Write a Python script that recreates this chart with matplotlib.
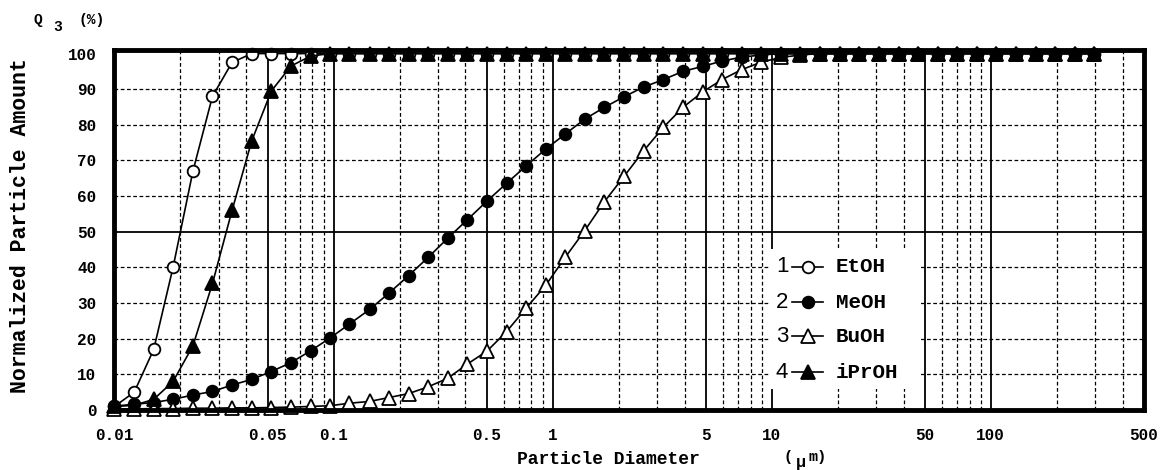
import matplotlib
matplotlib.use("Agg")
import matplotlib.pyplot as plt
from matplotlib.patches import Rectangle

# ---------------- data ----------------
diameters_um = [0.0100, 0.0123, 0.0151, 0.0185, 0.0228, 0.0280, 0.0344, 0.0423, 0.0520, 0.0639,
                0.0785, 0.0964, 0.118, 0.146, 0.179, 0.220, 0.270, 0.332, 0.408, 0.501,
                0.616, 0.757, 0.930, 1.14, 1.40, 1.72, 2.12, 2.60, 3.20, 3.93,
                4.83, 5.93, 7.29, 8.96, 11.0, 13.5, 16.6, 20.4, 25.1, 30.8,
                37.9, 46.6, 57.2, 70.3, 86.4, 106, 130, 160, 197, 242, 297]

etoh = [1.0, 5.0, 17.0, 40.0, 67.0, 88.0, 97.5, 100, 100, 100,
        100, 100, 100, 100, 100, 100, 100, 100, 100, 100,
        100, 100, 100, 100, 100, 100, 100, 100, 100, 100,
        100, 100, 100, 100, 100, 100, 100, 100, 100, 100,
        100, 100, 100, 100, 100, 100, 100, 100, 100, 100, 100]

meoh = [1.1, 1.6, 2.1, 3.0, 4.2, 5.2, 7.0, 8.6, 10.8, 13.3,
        16.6, 20.2, 24.1, 28.2, 32.8, 37.7, 42.8, 48.2, 53.4, 58.6,
        63.6, 68.5, 73.2, 77.4, 81.6, 84.9, 87.9, 90.6, 92.7, 95.0,
        96.4, 97.9, 99.0, 99.6, 100, 100, 100, 100, 100, 100,
        100, 100, 100, 100, 100, 100, 100, 100, 100, 100, 100]

buoh = [0.3, 0.3, 0.4, 0.4, 0.5, 0.5, 0.6, 0.6, 0.7, 0.8,
        1.0, 1.2, 1.9, 2.4, 3.5, 4.6, 6.5, 8.9, 12.9, 16.5,
        22.0, 28.6, 35.0, 42.8, 50.3, 58.4, 65.6, 72.7, 79.3, 84.9,
        89.2, 92.7, 95.5, 97.6, 98.9, 99.6, 100, 100, 100, 100,
        100, 100, 100, 100, 100, 100, 100, 100, 100, 100, 100]

iproh = [1.0, 1.3, 3.0, 8.0, 18.0, 35.5, 56.0, 75.5, 89.5, 96.5,
         99.3, 100, 100, 100, 100, 100, 100, 100, 100, 100,
         100, 100, 100, 100, 100, 100, 100, 100, 100, 100,
         100, 100, 100, 100, 100, 100, 100, 100, 100, 100,
         100, 100, 100, 100, 100, 100, 100, 100, 100, 100, 100]

series_names = ["EtOH", "MeOH", "BuOH", "iPrOH"]
series_numbers = ["1", "2", "3", "4"]

x_tick_values = [0.01, 0.05, 0.1, 0.5, 1, 5, 10, 50, 100, 500]
x_tick_labels = ["0.01", "0.05", "0.1", "0.5", "1", "5", "10", "50", "100", "500"]
y_tick_values = [0, 10, 20, 30, 40, 50, 60, 70, 80, 90, 100]
y_tick_labels = ["0", "10", "20", "30", "40", "50", "60", "70", "80", "90", "100"]

x_solid_grid = [0.05, 0.1, 0.5, 1, 5, 10, 50, 100]
x_dashed_grid = [0.02, 0.03, 0.04, 0.06, 0.07, 0.08, 0.09,
                 0.2, 0.3, 0.4, 0.6, 0.7, 0.8, 0.9,
                 2, 3, 4, 6, 7, 8, 9,
                 20, 30, 40, 60, 70, 80, 90,
                 200, 300, 400]
y_solid_grid = [50]
y_dashed_grid = [10, 20, 30, 40, 60, 70, 80, 90]

# ---------------- styles ----------------
MONO = "Liberation Mono"
W, H = 1165, 470
fig = plt.figure(figsize=(W / 100, H / 100), dpi=100)
fig.patch.set_facecolor("white")

left_px, right_px, top_px, bottom_px = 114.5, 1144.0, 50.0, 410.0
ax = fig.add_axes([left_px / W, 1 - bottom_px / H,
                   (right_px - left_px) / W, (bottom_px - top_px) / H])
ax.set_xscale("log")
ax.set_xlim(0.01, 500)
ax.set_ylim(0, 101.0)

# grid
dash = (0, (3, 2))
for xv in x_solid_grid:
    ax.axvline(xv, color="black", lw=1.3, zorder=1)
for xv in x_dashed_grid:
    ax.axvline(xv, color="black", lw=0.9, ls=dash, zorder=1)
for yv in y_solid_grid:
    ax.axhline(yv, color="black", lw=1.3, zorder=1)
for yv in y_dashed_grid:
    ax.axhline(yv, color="black", lw=0.9, ls=dash, zorder=1)

styles = [
    dict(marker="o", mfc="white", ms=8.4),
    dict(marker="o", mfc="black", ms=8.4),
    dict(marker="^", mfc="white", ms=9.6),
    dict(marker="^", mfc="black", ms=9.6),
]
all_series = [etoh, meoh, buoh, iproh]
for i, (vals, st) in enumerate(zip(all_series, styles)):
    ax.plot(diameters_um, vals, color="black", lw=1.2, mec="black", mew=1.3,
            clip_on=False, zorder=5 + i, **st)

# ticks
ax.set_xticks(x_tick_values)
ax.set_xticklabels(x_tick_labels)
ax.xaxis.set_minor_locator(matplotlib.ticker.NullLocator())
ax.set_yticks(y_tick_values)
ax.set_yticklabels(y_tick_labels)
ax.tick_params(axis="both", length=0, pad=13, labelsize=11.5)
for lab in ax.get_xticklabels() + ax.get_yticklabels():
    lab.set_fontfamily(MONO)
    lab.set_fontweight("bold")

for sp in ax.spines.values():
    sp.set_linewidth(3.5)
    sp.set_zorder(20)

# legend (manual, drawn in axes coordinates)
def ax_x(px):
    return (px - left_px) / (right_px - left_px)

def ax_y(py):
    return (bottom_px - py) / (bottom_px - top_px)

ax.add_patch(Rectangle((ax_x(770), ax_y(389)), ax_x(921) - ax_x(770), ax_y(249) - ax_y(389),
                       transform=ax.transAxes, facecolor="white", edgecolor="none", zorder=3))
row_px = [267, 302, 336, 372]
for num, name, st, ry in zip(series_numbers, series_names, styles, row_px):
    yy = ax_y(ry)
    ax.text(ax_x(782), yy, num, transform=ax.transAxes, ha="center", va="center",
            fontsize=16, family="Liberation Sans", zorder=10)
    ax.plot([ax_x(792), ax_x(823)], [yy, yy], transform=ax.transAxes, color="black",
            lw=1.2, zorder=10)
    ax.plot([ax_x(807.5)], [yy], transform=ax.transAxes, color="black", mec="black",
            mew=1.3, ls="none", zorder=11, clip_on=False, **st)
    ax.text(ax_x(836), yy, name, transform=ax.transAxes, ha="left", va="center",
            fontsize=15, family=MONO, fontweight="bold", zorder=10)

# axis titles
fig.text(21 / W, 1 - 226 / H, "Normalized Particle Amount", rotation=90,
         ha="center", va="center", fontsize=15.5, family=MONO, fontweight="bold")
fig.text(608 / W, 1 - 459 / H, "Particle Diameter", ha="center", va="center",
         fontsize=13, family=MONO, fontweight="bold")
fig.text(788 / W, 1 - 457 / H, "(", ha="center", va="center",
         fontsize=11, family=MONO, fontweight="bold")
fig.text(801 / W, 1 - 463 / H, "μ", ha="center", va="center",
         fontsize=12, family=MONO, fontweight="bold")
fig.text(818 / W, 1 - 457 / H, "m)", ha="center", va="center",
         fontsize=11, family=MONO, fontweight="bold")

# Q3 (%)
fig.text(38 / W, 1 - 20 / H, "Q", ha="center", va="center",
         fontsize=10.5, family=MONO, fontweight="bold")
fig.text(58 / W, 1 - 27 / H, "3", ha="center", va="center",
         fontsize=10.5, family=MONO, fontweight="bold")
fig.text(92 / W, 1 - 20 / H, "(%)", ha="center", va="center",
         fontsize=10.5, family=MONO, fontweight="bold")

fig.savefig("out.png", dpi=100)
